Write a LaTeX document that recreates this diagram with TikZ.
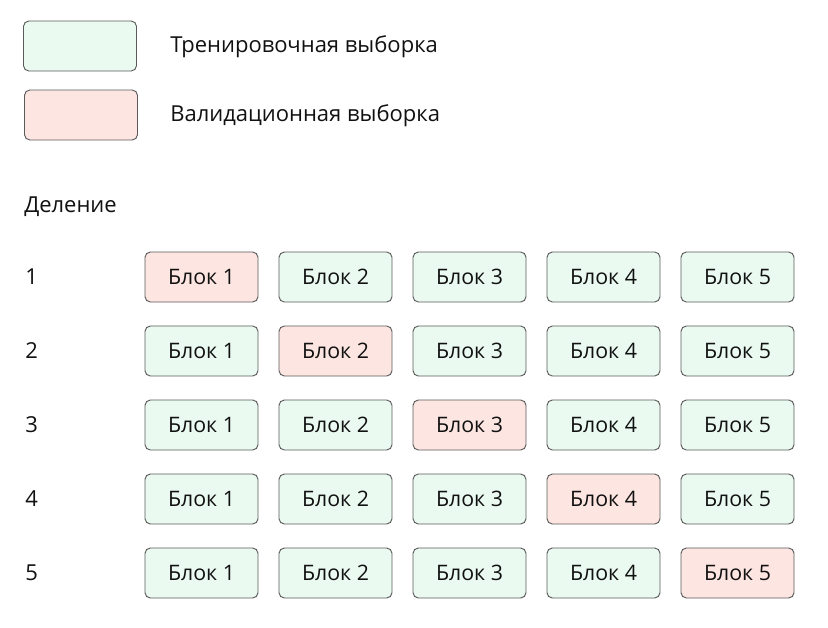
\documentclass[tikz,border=0pt]{standalone}
\usepackage{fontspec}
\setmainfont{Open Sans}
\usetikzlibrary{positioning}
\definecolor{trainfill}{HTML}{EAFAF1}
\definecolor{validfill}{HTML}{FDE6E2}
\definecolor{blockedge}{HTML}{5A5A5A}
\definecolor{ink}{HTML}{111111}

\begin{document}
\begin{tikzpicture}[x=0.75pt, y=-0.75pt,
    block/.style={rectangle, draw=blockedge, line width=0.7pt, rounded corners=4pt, minimum width=84.75pt, minimum height=37.5pt, text=ink, font=\fontsize{16}{19}\selectfont},
    train/.style={block, fill=trainfill},
    valid/.style={block, fill=validfill},
    caption/.style={anchor=west, inner sep=0pt, text=ink, font=\fontsize{16.5}{20}\selectfont}
]
    \useasboundingbox (0,0) rectangle (828,628);

    % legend
    \node[train] (legtrain) at (80,46) {};
    \node[valid] (legvalid) at (81,115) {};
    \node[caption] (txttrain) at (170,47) {Тренировочная выборка};
    \node[caption] (txtvalid) at (170,116) {Валидационная выборка};

    \node[caption] (split) at (24,207) {Деление};

    % splits
    \foreach \r in {1,...,5} {
        \node[caption] (row\r) at (25,{277+74*(\r-1)}) {\r};
        \foreach \c in {1,...,5} {
            \ifnum\c=\r \def\kind{valid}\else \def\kind{train}\fi
            \node[\kind] (b\r\c) at ({201.5+134*(\c-1)},{277+74*(\r-1)}) {Блок \c};
        }
    }
\end{tikzpicture}
\end{document}
